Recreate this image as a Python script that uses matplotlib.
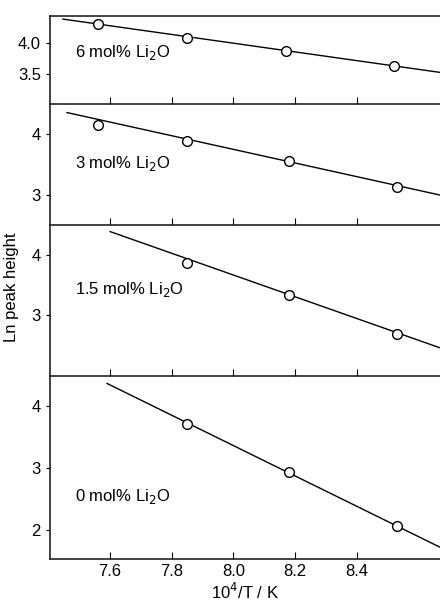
import matplotlib
matplotlib.use("Agg")
from matplotlib import pyplot as plt

plt.rcParams['font.family'] = ['Liberation Sans', 'DejaVu Sans']
plt.rcParams['font.size'] = 12

# measured points, 10^4/T vs ln(peak height)
x_meas = {
    "6":   [7.56, 7.85, 8.17, 8.52],
    "3":   [7.56, 7.85, 8.18, 8.53],
    "1.5": [7.85, 8.18, 8.53],
    "0":   [7.85, 8.18, 8.53],
}
y_meas = {
    "6":   [4.31, 4.08, 3.87, 3.63],
    "3":   [4.15, 3.89, 3.56, 3.13],
    "1.5": [3.87, 3.33, 2.68],
    "0":   [3.70, 2.94, 2.06],
}
# fitted lines (start, end)
x_fit = {
    "6":   [7.447, 8.67],
    "3":   [7.46, 8.67],
    "1.5": [7.60, 8.67],
    "0":   [7.59, 8.67],
}
y_fit = {
    "6":   [4.39, 3.53],
    "3":   [4.35, 3.00],
    "1.5": [4.39, 2.45],
    "0":   [4.36, 1.72],
}
labels = ["6", "3", "1.5", "0"]
ylims = [(3.02, 4.44), (2.51, 4.49), (1.98, 4.50), (1.53, 4.48)]
yticks = [[3.5, 4.0], [3, 4], [3, 4], [2, 3, 4]]
ytick_labels = [["3.5", "4.0"], ["3", "4"], ["3", "4"], ["2", "3", "4"]]
text_y = [0.59, 0.51, 0.57, 0.34]
xticks = [7.6, 7.8, 8.0, 8.2, 8.4]

fig = plt.figure(figsize=(4.4, 6.03), dpi=100)
gs = fig.add_gridspec(4, 1, height_ratios=[88, 121, 151, 183], hspace=0,
                      left=50/440, right=1.0, top=1-16/603, bottom=1-559/603)

for i, key in enumerate(labels):
    ax = fig.add_subplot(gs[i])
    ax.patch.set_alpha(0)
    ax.set_zorder(10 - i)
    ax.plot(x_fit[key], y_fit[key], color="black", lw=1.0)
    ax.plot(x_meas[key], y_meas[key], "o", ms=7, mfc="white", mec="black", mew=1.0)
    ax.set_xlim(7.405, 8.67)
    ax.set_ylim(*ylims[i])
    ax.set_yticks(yticks[i], labels=ytick_labels[i])
    ax.set_xticks(xticks)
    ax.tick_params(axis="x", direction="in", length=5, width=0.8)
    ax.tick_params(axis="y", direction="out", length=3, width=0.8)
    ax.spines["right"].set_visible(False)
    if i > 0:
        ax.spines["top"].set_visible(False)
    for s in ax.spines.values():
        s.set_linewidth(1.2)
        s.set_color("#222222")
    if i < 3:
        ax.tick_params(axis="x", labelbottom=False)
    else:
        ax.set_xticklabels(["7.6", "7.8", "8.0", "8.2", "8.4"])
        ax.set_xlabel("10$^4$/T / K", labelpad=2)
    ax.text(0.064, text_y[i], key + " mol% Li$_2$O", transform=ax.transAxes,
            ha="left", va="center")

fig.text(0.027, 1 - 287/603, "Ln peak height", rotation=90, ha="center", va="center")

plt.savefig("out.png", dpi=100)
